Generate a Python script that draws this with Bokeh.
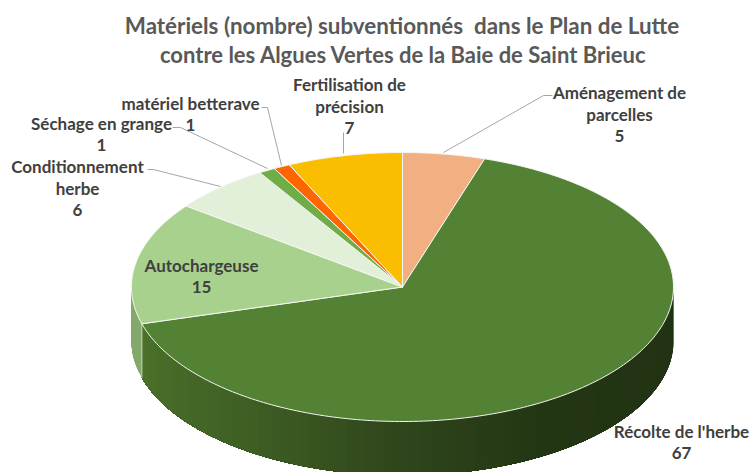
import numpy as np
from bokeh.plotting import figure
from bokeh.models import Range1d
from bokeh.core.properties import value
from bokeh.embed import file_html
from bokeh.resources import INLINE

# Data
categories = ["Aménagement de parcelles", "Récolte de l'herbe", "Autochargeuse",
              "Conditionnement herbe", "Séchage en grange", "matériel betterave",
              "Fertilisation de précision"]
values = [5, 67, 15, 6, 1, 1, 7]
label_lines = [["Aménagement de", "parcelles"], ["Récolte de l'herbe"], ["Autochargeuse"],
               ["Conditionnement", "herbe"], ["Séchage en grange"], ["matériel betterave"],
               ["Fertilisation de", "précision"]]
title_lines = ["Matériels (nombre) subventionnés\u00a0 dans le Plan de Lutte",
               "contre les Algues Vertes de la Baie de Saint Brieuc"]

colors = ["#F2AF82", "#548235", "#A9D18E", "#E2EFD9", "#70AD47", "#FF6600", "#FBBD00"]

# Layout
label_x = [619, 681, 201, 77, 101, 190, 349]
label_y = [92, 431, 264.5, 166, 123, 103, 84]
line_h = 21.5
CX, CY, RX, RY, DEPTH = 402, 286.5, 271, 134.5, 54
title_x = [401.5, 403]
title_y = [25, 54]
title_size = ["22.4px", "22px"]

p = figure(width=752, height=472, output_backend="svg", toolbar_location=None,
           x_range=Range1d(0, 752), y_range=Range1d(472, 0),
           min_border=0, outline_line_color=None, background_fill_color="white")
p.axis.visible = False
p.grid.visible = False


def edge(t):
    return CX + RX * np.sin(t), CY - RY * np.cos(t)


def hex2rgb(h):
    return np.array([int(h[i:i + 2], 16) for i in (1, 3, 5)], float)


def side_colour(deg, idx):
    if idx == 1:
        stops_d = [90, 150, 180, 215, 254.2]
        stops_c = ["#213212", "#233614", "#2F451B", "#3F5F24", "#4B712A"]
    else:
        stops_d = [90, 360]
        stops_c = ["#84A96B", "#84A96B"]
    rgb = [np.interp(deg, stops_d, [hex2rgb(c)[k] for c in stops_c]) for k in range(3)]
    return "#%02x%02x%02x" % tuple(int(round(v)) for v in rgb)


fractions = np.array(values, float) / sum(values)
bounds = np.concatenate([[0], np.cumsum(fractions)]) * 2 * np.pi

# Side wall, drawn from the slices' own angular extents; each strip runs on
# to the wall's far end so that the next one covers it without a seam
xs, ys, cs = [], [], []
for i in range(len(values)):
    a0 = max(bounds[i], np.pi / 2)
    a1 = min(bounds[i + 1], 3 * np.pi / 2)
    if a1 <= a0:
        continue
    n = max(2, int(np.degrees(a1 - a0) / 2))
    grid = np.linspace(a0, a1, n + 1)
    for u, v in zip(grid[:-1], grid[1:]):
        arc = np.linspace(u, a1, max(2, int(np.degrees(a1 - u)) + 2))
        ax, ay = edge(arc)
        xs.append(list(ax) + list(ax[::-1]))
        ys.append(list(ay) + list((ay + DEPTH)[::-1]))
        cs.append(side_colour(np.degrees((u + v) / 2), i))
p.patches(xs, ys, fill_color=cs, line_color=None)

# Seam between the two visible walls
xe, ye = edge(bounds[2])
p.line([xe, xe], [ye, ye + DEPTH], line_color="#C9D8BE", line_width=1)

# Top face
xs, ys = [], []
for i in range(len(values)):
    grid = np.linspace(bounds[i], bounds[i + 1], max(3, int(np.degrees(bounds[i + 1] - bounds[i]))))
    ex, ey = edge(grid)
    xs.append([CX] + list(ex))
    ys.append([CY] + list(ey))
p.patches(xs, ys, fill_color=colors, line_color="#F4F6F1", line_width=1)

# Leader lines
leaders = [
    ([552, 543, 443], [95, 95, 152]),
    ([343, 343], [132, 153]),
    ([261, 267, 281], [107, 107, 165]),
    ([172, 180, 267], [127, 127, 168]),
    ([147, 153, 220], [169, 169, 186]),
]
for lx, ly in leaders:
    p.line(lx, ly, line_color="#A6A6A6", line_width=1)

# Data labels
tx, ty, tt = [], [], []
for i, lines in enumerate(label_lines):
    for j, s in enumerate(lines + [str(values[i])]):
        tx.append(label_x[i])
        ty.append(label_y[i] + j * line_h)
        tt.append(s)
p.text(tx, ty, text=tt, text_align="center", text_baseline="middle",
       text_font=value("Lato"), text_font_style="bold", text_font_size="17px",
       text_color="#404040")

# Title
for s, x, y, size in zip(title_lines, title_x, title_y, title_size):
    p.text([x], [y], text=[s], text_align="center", text_baseline="middle",
           text_font=value("Lato"), text_font_style="bold", text_font_size=size,
           text_color="#595959")

open("out.html", "w").write(file_html(p, INLINE))
